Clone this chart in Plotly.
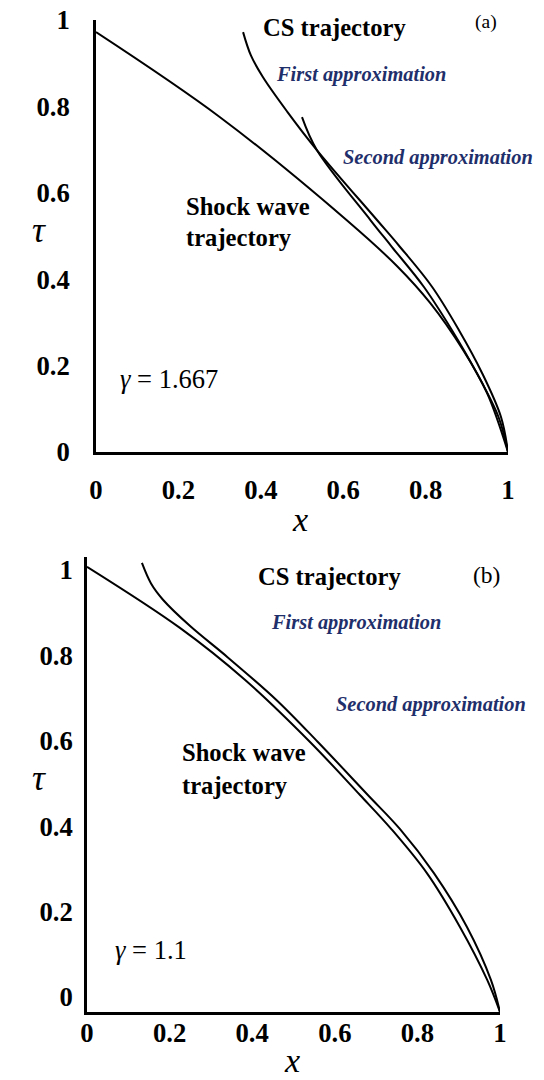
import plotly.graph_objects as go

W, H = 544, 1080

# ---------------- data ----------------
# Panel (a): gamma = 1.667
a_shock_x = [0.0, 0.301, 0.608, 0.731, 0.811, 0.891, 0.949, 1.0]
a_shock_t = [0.972, 0.775, 0.537, 0.430, 0.345, 0.236, 0.137, 0.0]

a_first_x = [0.357, 0.376, 0.405, 0.464, 0.536, 0.682, 0.735, 0.816, 0.881, 0.937, 0.983, 1.0]
a_first_t = [0.972, 0.918, 0.868, 0.788, 0.699, 0.537, 0.478, 0.382, 0.282, 0.183, 0.081, 0.0]

a_second_x = [0.500, 0.536, 0.666, 0.718, 0.796, 0.864, 0.924, 0.977, 1.0]
a_second_t = [0.775, 0.699, 0.537, 0.475, 0.382, 0.282, 0.183, 0.081, 0.0]

# Panel (b): gamma = 1.1
b_shock_x = [0.0, 0.225, 0.383, 0.540, 0.661, 0.738, 0.823, 0.903, 0.969, 1.0]
b_shock_t = [1.007, 0.864, 0.742, 0.597, 0.473, 0.392, 0.290, 0.164, 0.040, -0.035]

b_cs_x = [0.133, 0.155, 0.184, 0.249, 0.341, 0.458, 0.559, 0.680, 0.758, 0.840, 0.920, 0.978, 1.0]
b_cs_t = [1.016, 0.968, 0.930, 0.869, 0.795, 0.696, 0.597, 0.473, 0.393, 0.290, 0.164, 0.040, -0.035]

tick_vals = [0, 0.2, 0.4, 0.6, 0.8, 1]
tick_text = ["0", "0.2", "0.4", "0.6", "0.8", "1"]

# ---------------- figure ----------------
SERIF = "Liberation Serif"
NAVY = "#1f2f6b"


def px(x):
    return x / W


def py(y):
    return 1 - y / H


fig = go.Figure()
for xs, ts in [(a_shock_x, a_shock_t), (a_first_x, a_first_t), (a_second_x, a_second_t)]:
    fig.add_trace(go.Scatter(x=xs, y=ts, mode="lines",
                             line=dict(color="black", width=2, shape="spline", smoothing=1.0),
                             xaxis="x", yaxis="y", showlegend=False, hoverinfo="skip"))
for xs, ts in [(b_shock_x, b_shock_t), (b_cs_x, b_cs_t)]:
    fig.add_trace(go.Scatter(x=xs, y=ts, mode="lines",
                             line=dict(color="black", width=2, shape="spline", smoothing=1.0),
                             xaxis="x2", yaxis="y2", showlegend=False, hoverinfo="skip"))

tick_font = dict(family=SERIF, size=26.7, color="black", weight="bold")
axis_common = dict(showline=True, linecolor="black", linewidth=2.6, showgrid=False, zeroline=False,
                   tickvals=tick_vals, ticktext=tick_text, ticks="", tickfont=tick_font,
                   ticklabeloverflow="allow", automargin=False, fixedrange=True)

fig.update_layout(
    template="none",
    width=W, height=H,
    margin=dict(l=0, r=0, t=0, b=0, autoexpand=False),
    paper_bgcolor="white", plot_bgcolor="white",
    xaxis=dict(axis_common, domain=[px(96), px(508)], range=[0, 1], anchor="y", ticklabelstandoff=12),
    yaxis=dict(axis_common, domain=[py(452), py(20)], range=[0, 1], anchor="x", ticklabelstandoff=18),
    xaxis2=dict(axis_common, domain=[px(87), px(500)], range=[0, 1], anchor="y2", ticklabelstandoff=-5),
    yaxis2=dict(axis_common, domain=[py(1012), py(557)], range=[-0.035, 1.03], anchor="x2", ticklabelstandoff=6),
)


def note(text, x, y, size, color="black", xanchor="center", weight="normal", style="normal"):
    fig.add_annotation(text=text, x=px(x), y=py(y), xref="paper", yref="paper", showarrow=False,
                       xanchor=xanchor, yanchor="middle",
                       font=dict(family=SERIF, size=size, color=color, weight=weight, style=style))


# panel (a) texts
note("CS trajectory", 334, 27, 24.6, weight="bold")
note("(a)", 486, 22, 19.5)
note("First approximation", 361, 74, 20.4, color=NAVY, weight="bold", style="italic")
note("Second approximation", 438, 157, 20.4, color=NAVY, weight="bold", style="italic")
note("Shock wave", 184, 206, 24.6, xanchor="left", weight="bold")
note("trajectory", 184, 238, 24.6, xanchor="left", weight="bold")
note("<i>γ</i> = 1.667", 118, 379, 26.5, xanchor="left")
note("<i>τ</i>", 39, 230, 36)
note("<i>x</i>", 300, 519, 34)

# panel (b) texts
note("CS trajectory", 329, 576, 24.6, weight="bold")
note("(b)", 486, 575, 23.5)
note("First approximation", 356, 622, 20.4, color=NAVY, weight="bold", style="italic")
note("Second approximation", 431, 704, 20.4, color=NAVY, weight="bold", style="italic")
note("Shock wave", 180, 752, 24.6, xanchor="left", weight="bold")
note("trajectory", 180, 785, 24.6, xanchor="left", weight="bold")
note("<i>γ</i> = 1.1", 113, 950, 26.5, xanchor="left")
note("<i>τ</i>", 39, 778, 36)
note("<i>x</i>", 292, 1060, 34)

fig.write_html(
    "out.html",
    config={"displayModeBar": False, "responsive": False},
    post_script="document.body.style.margin='0';document.body.style.overflow='hidden';",
)
